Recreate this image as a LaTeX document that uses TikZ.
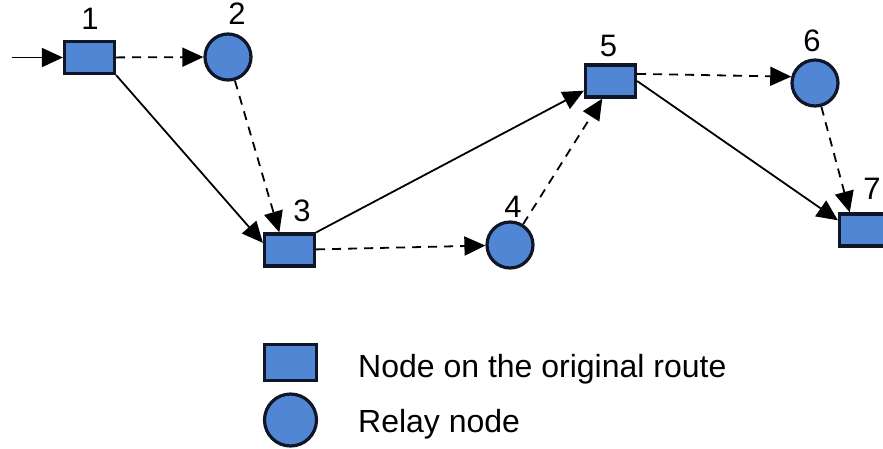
\documentclass[tikz,border=0pt]{standalone}
\usepackage{fontspec}
\setmainfont{Liberation Sans}
\usetikzlibrary{arrows.meta}
\definecolor{nodeblue}{RGB}{80,134,212}
\definecolor{rimdark}{RGB}{15,22,40}

\begin{document}
\begin{tikzpicture}[%
    x=1pt, y=-1pt,
    font=\fontsize{31}{36}\selectfont,
    route/.style={rectangle, fill=nodeblue, draw=rimdark, line width=3.2pt, minimum width=50pt, minimum height=32pt, inner sep=0pt},
    relay/.style={circle, fill=nodeblue, draw=rimdark, line width=3.2pt, minimum size=46pt, inner sep=0pt},
    num/.style={inner sep=0pt},
    keytext/.style={anchor=base west, inner sep=0pt, font=\fontsize{32}{36}\selectfont},
    hop/.style={line width=1.8pt, -{Triangle[length=21pt,width=19pt]}},
    side/.style={hop, dash pattern=on 9pt off 7pt}]

    \useasboundingbox (0,0) rectangle (883,448);

    \coordinate (src) at (12,57.5);

    \node[route, label={[num,label distance=10pt,xshift=0.5pt]above:1}] (n1) at (89.5,57.5) {};
    \node[relay, label={[num,label distance=8pt,xshift=9pt]above:2}] (n2) at (228,57) {};
    \node[route, label={[num,label distance=10pt,xshift=12.5pt]above:3}] (n3) at (289.5,250) {};
    \node[relay, label={[num,label distance=3pt,xshift=3pt]above:4}] (n4) at (510,245) {};
    \node[route, label={[num,label distance=6pt,xshift=-2pt]above:5}] (n5) at (610.5,81) {};
    \node[relay, label={[num,label distance=6pt,xshift=-3pt]above:6}] (n6) at (815,83) {};
    \node[route, label={[num,label distance=13pt,xshift=7.5pt]above:7}] (n7) at (864.5,230) {};

    \draw[hop] (src) -- (n1);
    \draw[side] (n1) -- (n2);
    \draw[hop] (n1.south east) -- (n3.165);
    \draw[side] (n2) -- (n3.120);
    \draw[side] (n3) -- (n4);
    \draw[hop] (n3.north east) -- (n5.200);
    \draw[side] (n4) -- (n5.245);
    \draw[side] (n5.15) -- (n6.165);
    \draw[hop] (n5.east) -- (n7.160);
    \draw[side] (n6) -- (n7.130);

    \node[route, minimum width=52pt, minimum height=36pt] (keyroute) at (290.5,362.5) {};
    \node[relay, minimum size=52pt] (keyrelay) at (290.5,420) {};
    \node[keytext] (keyroutetxt) at (358,377) {Node on the original route};
    \node[keytext] (keyrelaytxt) at (358,432) {Relay node};

\end{tikzpicture}
\end{document}
